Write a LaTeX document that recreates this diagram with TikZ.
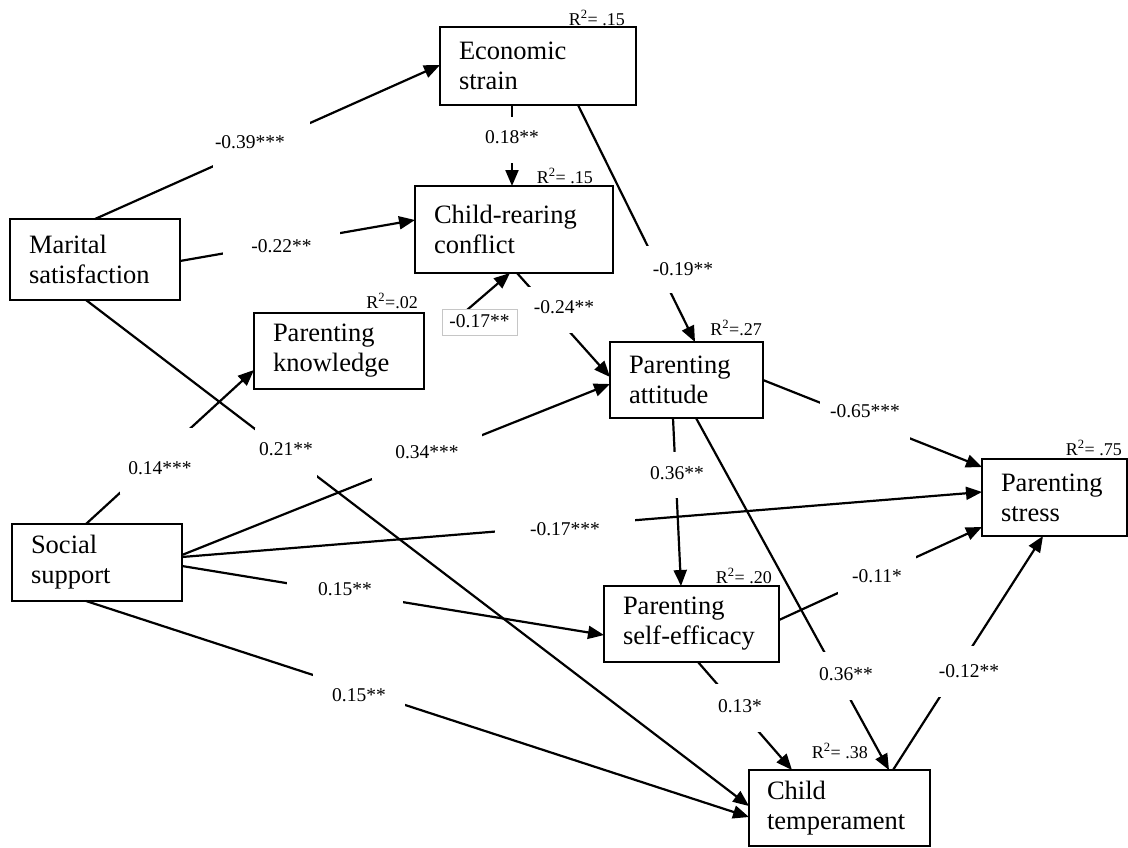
\documentclass[tikz,border=0pt]{standalone}
\usepackage{fontspec}
\setmainfont{Liberation Serif}
\usetikzlibrary{arrows.meta,calc}
\begin{document}
\begin{tikzpicture}[x=1pt,y=-1pt,
  box/.style={draw, line width=1.8pt, anchor=north west, outer sep=0pt,
    inner xsep=19pt, inner ysep=0pt, align=left,
    font=\fontsize{26.5}{30}\selectfont},
  conn/.style={line width=2.2pt, -{Triangle[length=16pt,width=13pt]}},
  lbl/.style={fill=white, anchor=north west, inner xsep=2pt, inner ysep=0pt,
    outer sep=0pt, align=center, font=\fontsize{19.5}{22}\selectfont},
  rsq/.style={anchor=base east, inner sep=0pt, font=\fontsize{18}{20}\selectfont}
]
\useasboundingbox (0,0) rectangle (1128,847);

% variables
\node[box, text width=158pt, minimum height=78pt] (econ) at (440,27) {Economic\\strain};
\node[box, text width=160pt, minimum height=87pt] (conf) at (415,186) {Child-rearing\\conflict};
\node[box, text width=132pt, minimum height=81pt] (mar)  at (10,219)  {Marital\\satisfaction};
\node[box, text width=132pt, minimum height=76pt] (know) at (254,313) {Parenting\\knowledge};
\node[box, text width=115pt, minimum height=76pt] (att)  at (610,342) {Parenting\\attitude};
\node[box, text width=107pt, minimum height=77pt] (stress) at (982,459) {Parenting\\stress};
\node[box, text width=132pt, minimum height=77pt] (soc)  at (12,524)  {Social\\support};
\node[box, text width=137pt, minimum height=76pt] (self) at (604,586) {Parenting\\self-efficacy};
\node[box, inner xsep=18pt, text width=145pt, minimum height=76pt] (temp) at (749,770) {Child\\temperament};

% explained variance
\node[rsq] (r2econ)   at (625,25)   {R\textsuperscript{2}= .15};
\node[rsq] (r2conf)   at (593,183)  {R\textsuperscript{2}= .15};
\node[rsq] (r2know)   at (418,308)  {R\textsuperscript{2}=.02};
\node[rsq] (r2att)    at (762,335)  {R\textsuperscript{2}=.27};
\node[rsq] (r2stress) at (1122,455) {R\textsuperscript{2}= .75};
\node[rsq] (r2self)   at (772,583)  {R\textsuperscript{2}= .20};
\node[rsq] (r2temp)   at (868,758)  {R\textsuperscript{2}= .38};

% paths
\draw[conn] ($(mar.north west)+(85,0)$)   -- ($(econ.north west)+(0,38)$);
\draw[conn] ($(mar.north west)+(170,42)$) -- ($(conf.north west)+(0,34)$);
\draw[conn] ($(mar.north west)+(76,81)$)  -- ($(temp.north west)+(0,36)$);
\draw[conn] ($(soc.north west)+(74,0)$)   -- ($(know.north west)+(0,57)$);
\draw[conn] ($(soc.north west)+(170,31)$) -- ($(att.north west)+(0,42)$);
\draw[conn] ($(soc.north west)+(170,33)$) -- ($(stress.north west)+(0,33)$);
\draw[conn] ($(soc.north west)+(170,42)$) -- ($(self.north west)+(0,49)$);
\draw[conn] ($(soc.north west)+(74,77)$)  -- ($(temp.north west)+(0,47)$);
\draw[conn, shorten <=26pt] ($(know.north west)+(170,34)$) -- ($(conf.north west)+(95,87)$);
\draw[conn] ($(econ.north west)+(72,78)$)  -- ($(conf.north west)+(97,0)$);
\draw[conn] ($(econ.north west)+(138,78)$) -- ($(att.north west)+(85,0)$);
\draw[conn] ($(conf.north west)+(102,87)$) -- ($(att.north west)+(0,35)$);
\draw[conn] ($(att.north west)+(153,38)$)  -- ($(stress.north west)+(0,8)$);
\draw[conn] ($(att.north west)+(63,76)$)   -- ($(self.north west)+(77,0)$);
\draw[conn] ($(att.north west)+(86,76)$)   -- ($(temp.north west)+(140,0)$);
\draw[conn] ($(self.north west)+(175,34)$) -- ($(stress.north west)+(0,68)$);
\draw[conn] ($(self.north west)+(94,76)$)  -- ($(temp.north west)+(43,0)$);
\draw[conn] ($(temp.north west)+(144,0)$)  -- ($(stress.north west)+(61,77)$);

% coefficients
\node[lbl, align=left, text width=93pt, text height=27pt, text depth=20pt] (c39) at (213,121) {-0.39***};
\node[lbl, text width=113pt, text height=22pt, text depth=4pt]  (c22) at (223,230) {-0.22**};
\node[lbl, text width=76pt,  text height=46pt, text depth=20pt] (c14) at (120,428) {0.14***};
\node[lbl, text width=58pt,  text height=27pt, text depth=23pt] (c21) at (255,428) {0.21**};
\node[lbl, draw=gray!45, line width=0.8pt, text width=71pt, text height=18pt, text depth=8pt] (c17a) at (442,309) {-0.17**};
\node[lbl, text width=60pt,  text height=26pt, text depth=20pt] (c18) at (480,117) {0.18**};
\node[lbl, text width=70pt,  text height=29pt, text depth=18pt] (c19) at (646,246) {-0.19**};
\node[lbl, text width=68pt,  text height=26pt, text depth=20pt] (c24) at (528,287) {-0.24**};
\node[lbl, text width=106pt, text height=25pt, text depth=22pt] (c34) at (372,433) {0.34***};
\node[lbl, text width=136pt, text height=21pt, text depth=7pt]  (c17b) at (495,514) {-0.17***};
\node[lbl, text width=112pt, text height=18pt, text depth=12pt] (c15a) at (287,577) {0.15**};
\node[lbl, text width=88pt,  text height=31pt, text depth=11pt] (c15b) at (313,670) {0.15**};
\node[lbl, text width=86pt,  text height=19pt, text depth=23pt] (c65) at (820,398) {-0.65***};
\node[lbl, text width=58pt,  text height=27pt, text depth=19pt] (c36a) at (646,452) {0.36**};
\node[lbl, text width=60pt,  text height=28pt, text depth=20pt] (c36b) at (814,652) {0.36**};
\node[lbl, text width=74pt,  text height=29pt, text depth=13pt] (c11) at (838,553) {-0.11*};
\node[lbl, text width=52pt,  text height=28pt, text depth=20pt] (c13) at (712,684) {0.13*};
\node[lbl, text width=66pt,  text height=31pt, text depth=20pt] (c12) at (934,646) {-0.12**};
\end{tikzpicture}
\end{document}
